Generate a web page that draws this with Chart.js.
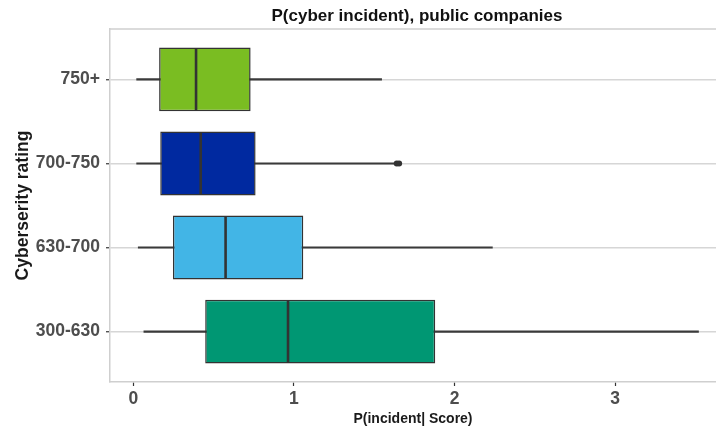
<!DOCTYPE html>
<html>
<head>
<meta charset="utf-8">
<script src="https://cdn.jsdelivr.net/npm/chart.js@4.4.1/dist/chart.umd.min.js"></script>
<style>
  html, body { margin: 0; padding: 0; background: #fff; }
  #wrap { width: 716px; height: 431px; }
</style>
</head>
<body>
<div id="wrap"><canvas id="boxChart"></canvas></div>
<script>
// ratings, top to bottom
const ratings = ['750+', '700-750', '630-700', '300-630'];
const whiskerLow = [0.02, 0.02, 0.03, 0.065];
const q1 = [0.16, 0.167, 0.246, 0.447];
const medians = [0.39, 0.419, 0.574, 0.963];
const q3 = [0.73, 0.761, 1.058, 1.88];
const whiskerHigh = [1.546, 1.635, 2.236, 3.52];
const boxColors = ['#7ABD22', '#0029A0', '#42B5E6', '#009773'];
// outliers: [rating index, value]
const outliers = [[1, 1.64], [1, 1.655]];
const xTicks = [0, 1, 2, 3];

const boxData = ratings.map((r, i) => ({ y: i + 1, x: [q1[i], q3[i]] }));
const whiskerData = ratings.map((r, i) => ({ y: i + 1, x: [whiskerLow[i], whiskerHigh[i]] }));

const FONT = "'Liberation Sans', Arial, sans-serif";

const boxExtras = {
  id: 'boxExtras',
  afterDatasetsDraw(chart) {
    const xs = chart.scales.x, ys = chart.scales.y;
    const meta = chart.getDatasetMeta(1);
    const ctx = chart.ctx;
    ctx.save();
    ctx.strokeStyle = '#333333';
    ctx.lineWidth = 2.6;
    medians.forEach((m, i) => {
      const bar = meta.data[i];
      const px = xs.getPixelForValue(m);
      const py = ys.getPixelForValue(i + 1);
      const h = bar.height / 2 - 1;
      ctx.beginPath();
      ctx.moveTo(px, py - h);
      ctx.lineTo(px, py + h);
      ctx.stroke();
    });
    ctx.fillStyle = '#333333';
    outliers.forEach(o => {
      ctx.beginPath();
      ctx.arc(xs.getPixelForValue(o[1]), ys.getPixelForValue(o[0] + 1), 3, 0, Math.PI * 2);
      ctx.fill();
    });
    ctx.restore();
  },
  afterDraw(chart) {
    const a = chart.chartArea;
    const ctx = chart.ctx;
    ctx.save();
    ctx.strokeStyle = '#CFCFCF';
    ctx.lineWidth = 1.5;
    ctx.beginPath();
    ctx.moveTo(a.left, a.top);
    ctx.lineTo(a.right, a.top);
    ctx.stroke();
    ctx.fillStyle = '#111111';
    ctx.font = "bold 17px " + FONT;
    ctx.textAlign = 'center';
    ctx.textBaseline = 'middle';
    ctx.fillText('P(cyber incident), public companies', (a.left + a.right) / 2 + 4, 16);
    ctx.restore();
  }
};

new Chart(document.getElementById('boxChart'), {
  type: 'bar',
  data: {
    datasets: [
      {
        data: whiskerData,
        backgroundColor: '#3A3A3A',
        barThickness: 1.5,
        grouped: false,
        order: 1
      },
      {
        data: boxData,
        backgroundColor: boxColors,
        borderColor: '#333333',
        borderWidth: 1.5,
        borderSkipped: false,
        barPercentage: 0.76,
        categoryPercentage: 1,
        grouped: false,
        order: 0
      }
    ]
  },
  options: {
    indexAxis: 'y',
    responsive: true,
    maintainAspectRatio: false,
    animation: false,
    layout: { padding: { top: 29, left: 0, right: 0, bottom: 0 } },
    plugins: {
      legend: { display: false },
      tooltip: { enabled: false },
      title: { display: false }
    },
    scales: {
      x: {
        type: 'linear',
        min: -0.146,
        max: 3.629,
        afterBuildTicks: (s) => { s.ticks = xTicks.map(v => ({ value: v })); },
        afterFit: (s) => { s.height = 49; },
        grid: { drawOnChartArea: false, tickLength: 4, tickColor: '#333333', tickWidth: 1.2 },
        border: { color: '#CFCFCF', width: 1.5 },
        ticks: { color: '#4D4D4D', padding: 3, font: { family: FONT, size: 17.5, weight: 'bold' } },
        title: {
          display: true,
          text: 'P(incident| Score)',
          color: '#1A1A1A',
          font: { family: FONT, size: 14, weight: 'bold' },
          padding: { top: 0, bottom: 3 }
        }
      },
      y: {
        type: 'linear',
        offset: false,
        min: 0.4,
        max: 4.6,
        reverse: true,
        afterBuildTicks: (s) => { s.ticks = ratings.map((r, i) => ({ value: i + 1 })); },
        afterFit: (s) => { s.width = 110; },
        grid: { offset: false, color: '#D6D6D6', lineWidth: 1.5, tickLength: 4, tickColor: '#333333', tickWidth: 1.2 },
        border: { color: '#CFCFCF', width: 1.5 },
        ticks: {
          color: '#4D4D4D',
          padding: 6,
          font: { family: FONT, size: 17.5, weight: 'bold' },
          callback: (v) => ratings[Math.round(v) - 1]
        },
        title: {
          display: true,
          text: 'Cyberserity rating',
          color: '#1A1A1A',
          font: { family: FONT, size: 17.5, weight: 'bold' },
          padding: { top: 13, bottom: 0 }
        }
      }
    }
  },
  plugins: [boxExtras]
});
</script>
</body>
</html>
